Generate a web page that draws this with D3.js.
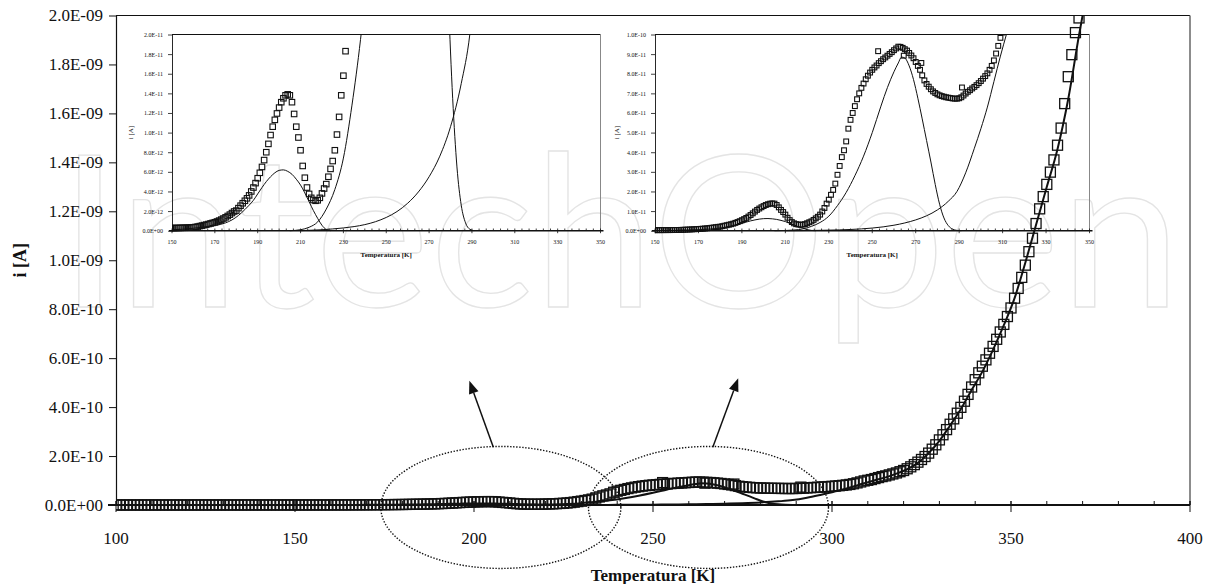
<!DOCTYPE html>
<html>
<head>
<meta charset="utf-8">
<script src="https://cdn.jsdelivr.net/npm/d3@7"></script>
<style>
  html, body { margin: 0; padding: 0; background: #fff; }
  svg { display: block; }
  text { font-family: "Liberation Serif", "Times New Roman", serif; fill: #111; }
  text.watermark { font-family: Lato, "Open Sans", sans-serif; fill: none; stroke: #e4e4e4; stroke-width: 1.3px; }
</style>
</head>
<body>
<svg id="chart" width="1214" height="584"></svg>
<script>
// ---- Measured TSDC current (pA) versus temperature (K) ----
const temperatureK = [
  100,101,102,103,104,105,106,107,108,109,
  110,111,112,113,114,115,116,117,118,119,
  120,121,122,123,124,125,126,127,128,129,
  130,131,132,133,134,135,136,137,138,139,
  140,141,142,143,144,145,146,147,148,149,
  150,151,152,153,154,155,156,157,158,159,
  160,161,162,163,164,165,166,167,168,169,
  170,171,172,173,174,175,176,177,178,179,
  180,181,182,183,184,185,186,187,188,189,
  190,191,192,193,194,195,196,197,198,199,
  200,201,202,203,204,205,206,207,208,209,
  210,211,212,213,214,215,216,217,218,219,
  220,221,222,223,224,225,226,227,228,229,
  230,231,232,233,234,235,236,237,238,239,
  240,241,242,243,244,245,246,247,248,249,
  250,251,252,252.7,253,254,255,256,257,258,259,
  260,261,262,263,264,264.5,265,266,267,268,269,
  270,271,272,272.6,273,274,275,276,277,278,279,
  280,281,282,283,284,285,286,287,288,289,
  290,291,291.3,292,293,294,295,296,297,298,299,
  300,301,302,303,304,305,306,307,308,309,
  310,311,312,313,314,315,316,317,318,319,
  320,321,322,323,324,325,326,327,328,329,
  330,331,332,333,334,335,336,337,338,339,
  340,341,342,343,344,345,346,347,348,349,
  350,351,352,353,354,355,356,357,358,359,
  360,361,362,363,364,365,366,367,368,369
];
const currentPA = [
  0.10,0.10,0.11,0.10,0.11,0.11,0.12,0.11,0.12,0.12,
  0.12,0.13,0.12,0.13,0.13,0.14,0.13,0.14,0.14,0.15,
  0.15,0.15,0.16,0.15,0.16,0.16,0.17,0.17,0.17,0.18,
  0.18,0.18,0.19,0.19,0.19,0.20,0.20,0.21,0.21,0.21,
  0.22,0.22,0.23,0.23,0.24,0.24,0.25,0.25,0.26,0.26,
  0.27,0.27,0.28,0.28,0.29,0.30,0.30,0.31,0.32,0.33,
  0.35,0.38,0.42,0.47,0.52,0.57,0.62,0.68,0.74,0.80,
  0.86,0.94,1.03,1.13,1.24,1.36,1.50,1.64,1.80,1.96,
  2.05,2.30,2.55,2.80,3.05,3.30,3.60,4.00,4.40,4.85,
  5.35,5.90,6.50,7.20,8.00,8.85,9.75,10.6,11.3,11.95,
  12.55,13.1,13.5,13.8,13.9,13.8,13.1,11.9,10.6,9.5,
  8.2,6.6,5.4,4.4,3.75,3.35,3.13,3.05,3.1,3.35,
  3.8,4.3,4.75,5.5,6.3,7.1,8.2,9.8,11.6,13.8,
  15.8,18.3,20.8,24.0,28.5,33.0,37.5,41.0,45.5,52.0,
  56.5,60.0,63.5,67.0,70.0,72.8,75.0,77.2,79.0,80.6,
  82.0,83.2,84.2,91.5,85.4,86.4,87.4,88.3,89.2,90.1,91.0,
  92.0,92.9,93.8,93.7,93.2,89.2,92.5,91.8,90.6,89.3,87.9,
  86.0,84.0,82.0,85.5,79.2,76.6,74.8,73.4,72.1,71.0,70.2,
  69.5,69.0,68.6,68.3,68.0,67.8,67.6,67.4,67.3,67.3,
  67.5,68.0,73.0,68.9,69.9,70.8,71.6,72.5,73.3,74.2,75.2,
  76.3,77.5,78.8,80.2,82.0,84.0,86.8,90.3,94.2,98.3,
  101,104,108,112,116,119,123,127,131,136,
  141,148,156,165,175,186,198,212,228,246,
  266,287,308,330,352,375,399,424,452,482,
  512,540,567,593,620,648,677,707,738,770,
  805,845,885,930,980,1035,1090,1150,1210,1260,
  1310,1360,1410,1470,1540,1640,1750,1840,1930,1990
];

// ---- Fitted components (pA) ----
const peak1T  = [150,155,160,165,170,175,178,181,184,186,188,190,192,194,196,198,200,202,204,206,208,210,212,214,216,218,220,222,224];
const peak1PA = [0.1,0.15,0.25,0.38,0.52,0.8,1.1,1.55,2.15,2.6,3.1,3.75,4.4,5.0,5.5,5.9,6.15,6.2,6.05,5.75,5.25,4.65,3.85,2.95,2.05,1.25,0.55,0.12,0];

const peak2T  = [205,210,214,218,222,226,230,234,238,242,246,250,254,257,260,262,263.5,265,267,269,271,273,275,277,279,281,283,285,287,289,291];
const peak2PA = [0,0.1,0.35,0.9,2.2,4.2,7.4,12.8,19.5,28,38,50,63.5,73,81,85.5,88.5,88,84,77,67.5,57,46,35,23.5,13.5,6.5,2.6,0.8,0.15,0];

const backgroundT  = [210,215,220,225,230,235,240,245,250,255,260,265,270,275,280,285,289,293,297,300,303,306,309,312,315,318,321,324,327,330,333,336,339,342,345,348,351,354,357,360,363,366,369,371];
const backgroundPA = [0,0.05,0.1,0.18,0.28,0.42,0.62,0.92,1.35,1.95,2.8,3.95,5.5,7.6,10.6,15.0,20,29.5,42,52,63,76,89,101,113,128,146,172,212,262,325,392,470,545,635,735,845,990,1145,1300,1455,1660,1920,2080];

// ---- Axis ranges ----
const mainTDomain = [100, 400];
const mainIDomain = [0, 2e-9];
const insetTDomain = [150, 350];
const insetLeftIMax = 2e-11;
const insetRightIMax = 1e-10;

// ---- Annotations (temperature, current) ----
const ellipseCentersT = [207.5, 265.5];
const ellipseCenterI = -0.1e-10;
const arrowFromT = [205.4, 266.7];
const arrowFromI = [2.36e-10, 2.36e-10];
const arrowToT = [198.7, 273.8];
const arrowToI = [5.08e-10, 5.18e-10];

const pA = 1e-12;
const measured = temperatureK.map((t, k) => ({ t, i: currentPA[k] * pA }));
const toSeries = (ts, vs) => ts.map((t, k) => ({ t, i: vs[k] * pA }));
const components = [
  toSeries(peak1T, peak1PA),
  toSeries(peak2T, peak2PA),
  toSeries(backgroundT, backgroundPA)
];

function sci(v) {
  if (Math.abs(v) < 1e-30) return "0.0E+00";
  const [m, e] = v.toExponential(1).split("e");
  const n = Math.abs(+e);
  return m.toUpperCase() + "E" + (+e < 0 ? "-" : "+") + (n < 10 ? "0" + n : n);
}

const svg = d3.select("#chart");
const defs = svg.append("defs");

// faint publisher watermark behind everything
svg.append("text")
  .attr("class", "watermark")
  .attr("x", 59).attr("y", 307)
  .attr("font-size", 212)
  .attr("textLength", 1122)
  .attr("lengthAdjust", "spacingAndGlyphs")
  .text("IntechOpen");

// ---------- Inset panels ----------
const insetTop = 34.5, insetBottom = 230.7;

function drawInset(cfg) {
  const x = d3.scaleLinear().domain(insetTDomain).range([cfg.left, cfg.right]);
  const y = d3.scaleLinear().domain([0, cfg.iMax]).range([insetBottom, insetTop]);
  const g = svg.append("g");

  defs.append("clipPath").attr("id", cfg.id)
    .append("rect")
    .attr("x", cfg.left).attr("y", insetTop)
    .attr("width", cfg.right - cfg.left).attr("height", insetBottom - insetTop + 6);

  // frame: top black, right grey
  g.append("line").attr("x1", cfg.left).attr("x2", cfg.right).attr("y1", insetTop).attr("y2", insetTop)
    .attr("stroke", "#111").attr("stroke-width", 1);
  g.append("line").attr("x1", cfg.right).attr("x2", cfg.right).attr("y1", insetTop).attr("y2", insetBottom)
    .attr("stroke", "#888").attr("stroke-width", 1);

  // y axis
  const yAxis = d3.axisLeft(y).ticks(10).tickSize(4).tickSizeOuter(0).tickPadding(5).tickFormat(sci);
  const ya = g.append("g").attr("transform", `translate(${cfg.left},0)`).call(yAxis);
  ya.select(".domain").attr("stroke", "#111").attr("stroke-width", 0.9);
  ya.selectAll(".tick line").attr("stroke", "#111").attr("stroke-width", 0.8);
  ya.selectAll(".tick text").attr("font-size", cfg.fontSize).attr("font-family", "Liberation Serif");

  // x axis: minor ticks above, major ticks below
  const minorT = d3.range(insetTDomain[0], insetTDomain[1] + 0.01, 20 / 6);
  g.append("g").selectAll("line").data(minorT).join("line")
    .attr("x1", d => x(d)).attr("x2", d => x(d))
    .attr("y1", insetBottom).attr("y2", insetBottom - 2.2)
    .attr("stroke", "#111").attr("stroke-width", 0.8);
  const majorT = d3.range(insetTDomain[0], insetTDomain[1] + 1, 20);
  g.append("g").selectAll("line").data(majorT).join("line")
    .attr("x1", d => x(d)).attr("x2", d => x(d))
    .attr("y1", insetBottom).attr("y2", insetBottom + 2.5)
    .attr("stroke", "#111").attr("stroke-width", 0.8);
  g.append("g").selectAll("text").data(majorT).join("text")
    .attr("x", d => x(d)).attr("y", insetBottom + 13)
    .attr("text-anchor", "middle").attr("font-size", cfg.fontSize)
    .text(d => d);
  g.append("line").attr("x1", cfg.left - 3).attr("x2", cfg.right + 3)
    .attr("y1", insetBottom).attr("y2", insetBottom)
    .attr("stroke", "#111").attr("stroke-width", 1.4);

  // titles
  g.append("text")
    .attr("transform", `translate(${cfg.left - cfg.titleOffset},${(insetTop + insetBottom) / 2}) rotate(-90)`)
    .attr("text-anchor", "middle").attr("font-size", cfg.fontSize + 1)
    .text("i [A]");
  g.append("text")
    .attr("x", (cfg.left + cfg.right) / 2).attr("y", insetBottom + 26)
    .attr("text-anchor", "middle").attr("font-size", cfg.fontSize + 1).attr("font-weight", "bold")
    .text("Temperatura [K]");

  const plot = g.append("g").attr("clip-path", `url(#${cfg.id})`);
  const s = cfg.markSize;
  plot.selectAll("rect").data(measured).join("rect")
    .attr("x", d => x(d.t) - s / 2).attr("y", d => y(d.i) - s / 2)
    .attr("width", s).attr("height", s)
    .attr("fill", "none").attr("stroke", "#111").attr("stroke-width", 1.1);

  const line = d3.line().x(d => x(d.t)).y(d => y(d.i)).curve(d3.curveMonotoneX);
  plot.selectAll("path").data(components).join("path")
    .attr("d", line).attr("fill", "none").attr("stroke", "#111").attr("stroke-width", 1);
}

drawInset({ id: "inset-left",  left: 172, right: 600.5, iMax: insetLeftIMax,  markSize: 5.5, fontSize: 6, titleOffset: 39 });
drawInset({ id: "inset-right", left: 655, right: 1089.5, iMax: insetRightIMax, markSize: 4.8, fontSize: 6, titleOffset: 36 });

// ---------- Main panel ----------
const plotLeft = 116, plotRight = 1190, plotTop = 15.5, plotBottom = 505;
const x = d3.scaleLinear().domain(mainTDomain).range([plotLeft, plotRight]);
const y = d3.scaleLinear().domain(mainIDomain).range([plotBottom, plotTop]);
const main = svg.append("g");

// frame
main.append("line").attr("x1", plotLeft).attr("x2", plotRight).attr("y1", plotTop).attr("y2", plotTop)
  .attr("stroke", "#111").attr("stroke-width", 1);
main.append("line").attr("x1", plotRight).attr("x2", plotRight).attr("y1", plotTop).attr("y2", plotBottom)
  .attr("stroke", "#666").attr("stroke-width", 1.5);

// y axis
const yAxis = d3.axisLeft(y).ticks(10).tickSize(7).tickSizeOuter(0).tickPadding(6).tickFormat(sci);
const ya = main.append("g").attr("transform", `translate(${plotLeft},0)`).call(yAxis);
ya.select(".domain").attr("stroke", "#111").attr("stroke-width", 1.2);
ya.selectAll(".tick line").attr("stroke", "#111").attr("stroke-width", 1);
ya.selectAll(".tick text").attr("font-size", 17).attr("font-family", "Liberation Serif").attr("fill", "#111");

// x axis
main.append("g").selectAll("line").data(x.ticks(30)).join("line")
  .attr("x1", d => x(d)).attr("x2", d => x(d))
  .attr("y1", plotBottom).attr("y2", plotBottom - 4)
  .attr("stroke", "#111").attr("stroke-width", 1);
main.append("g").selectAll("line").data(x.ticks(6)).join("line")
  .attr("x1", d => x(d)).attr("x2", d => x(d))
  .attr("y1", plotBottom - 4).attr("y2", plotBottom + 7)
  .attr("stroke", "#111").attr("stroke-width", 1);
main.append("g").selectAll("text").data(x.ticks(6)).join("text")
  .attr("x", d => x(d)).attr("y", plotBottom + 39)
  .attr("text-anchor", "middle").attr("font-size", 17)
  .text(d => d);

// measured points
defs.append("clipPath").attr("id", "main-clip")
  .append("rect").attr("x", plotLeft).attr("y", plotTop).attr("width", plotRight - plotLeft + 10).attr("height", 540 - plotTop);
const plot = main.append("g").attr("clip-path", "url(#main-clip)");
plot.selectAll("rect").data(measured).join("rect")
  .attr("x", d => x(d.t) - 5).attr("y", d => y(d.i) - 5)
  .attr("width", 10).attr("height", 10)
  .attr("fill", "none").attr("stroke", "#111").attr("stroke-width", 1.3);

// fitted components
const mainLine = d3.line().x(d => x(d.t)).y(d => y(d.i)).curve(d3.curveMonotoneX);
plot.selectAll("path").data(components).join("path")
  .attr("d", mainLine).attr("fill", "none").attr("stroke", "#111").attr("stroke-width", 2);

main.append("line").attr("x1", plotLeft - 8).attr("x2", plotRight).attr("y1", plotBottom).attr("y2", plotBottom)
  .attr("stroke", "#111").attr("stroke-width", 2.2);

// axis titles
main.append("text")
  .attr("transform", `translate(26,${(plotTop + plotBottom) / 2}) rotate(-90)`)
  .attr("text-anchor", "middle").attr("font-size", 18).attr("font-weight", "bold")
  .text("i [A]");
main.append("text")
  .attr("x", (plotLeft + plotRight) / 2).attr("y", 581)
  .attr("text-anchor", "middle").attr("font-size", 17).attr("font-weight", "bold")
  .text("Temperatura [K]");

// dotted ellipses marking the two relaxation regions, arrows to the insets
const notes = svg.append("g");
notes.selectAll("ellipse").data(ellipseCentersT).join("ellipse")
  .attr("cx", d => x(d)).attr("cy", y(ellipseCenterI))
  .attr("rx", 120).attr("ry", 61)
  .attr("fill", "none").attr("stroke", "#111").attr("stroke-width", 1.4)
  .attr("stroke-dasharray", "1.4,1.6");

arrowFromT.forEach((t0, k) => {
  const x0 = x(t0), y0 = y(arrowFromI[k]);
  const x1 = x(arrowToT[k]), y1 = y(arrowToI[k]);
  const dx = x1 - x0, dy = y1 - y0, len = Math.hypot(dx, dy);
  const ux = dx / len, uy = dy / len;
  const headLen = 13, headHalf = 5;
  const bx = x1 - ux * headLen, by = y1 - uy * headLen;
  notes.append("line").attr("x1", x0).attr("y1", y0).attr("x2", bx).attr("y2", by)
    .attr("stroke", "#111").attr("stroke-width", 1.5);
  notes.append("path")
    .attr("d", `M${x1},${y1}L${bx - uy * headHalf},${by + ux * headHalf}L${bx + uy * headHalf},${by - ux * headHalf}Z`)
    .attr("fill", "#111");
});
</script>
</body>
</html>
